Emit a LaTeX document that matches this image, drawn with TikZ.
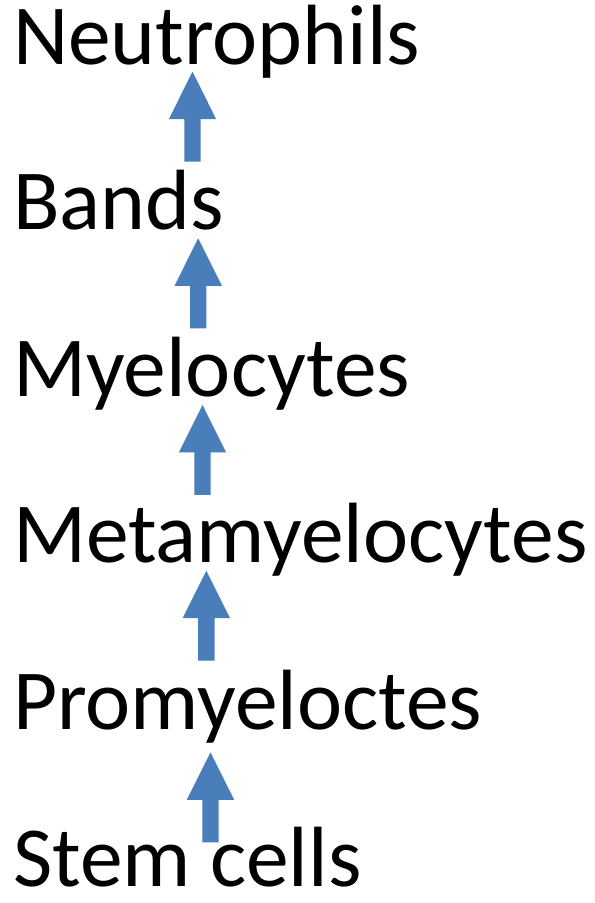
\documentclass[tikz,border=0pt]{standalone}
\usepackage{fontspec}
\setmainfont{Carlito}
\definecolor{arrowblue}{RGB}{74,126,187}
\begin{document}
\begin{tikzpicture}[x=1bp,y=1bp,
  label/.style={anchor=base west,inner sep=0pt,outer sep=0pt,font=\fontsize{85.5bp}{90bp}\selectfont,text=black},
  uparrow/.pic={\fill[arrowblue] (-8.2,0) -- (-8.2,42.5) -- (-23.7,42.5) -- (0,90) -- (23.7,42.5) -- (8.2,42.5) -- (8.2,0) -- cycle;}]
\useasboundingbox (0,0) rectangle (595,903);
\node[label] (neu) at (13,903-65) {Neutrophils};
\node[label] (ban) at (13,903-230) {Bands};
\node[label] (mye) at (13,903-397) {Myelocytes};
\node[label] (met) at (13,903-563) {Metamyelocytes};
\node[label] (pro) at (13,903-730) {Promyeloctes};
\node[label] (ste) at (13,903-887) {Stem cells};
\pic at (192.5,903-161.7) {uparrow};
\pic at (198.2,903-328.3) {uparrow};
\pic at (202.5,903-495) {uparrow};
\pic at (206.3,903-660.7) {uparrow};
\pic at (210.5,903-842.3) {uparrow};
\end{tikzpicture}
\end{document}
